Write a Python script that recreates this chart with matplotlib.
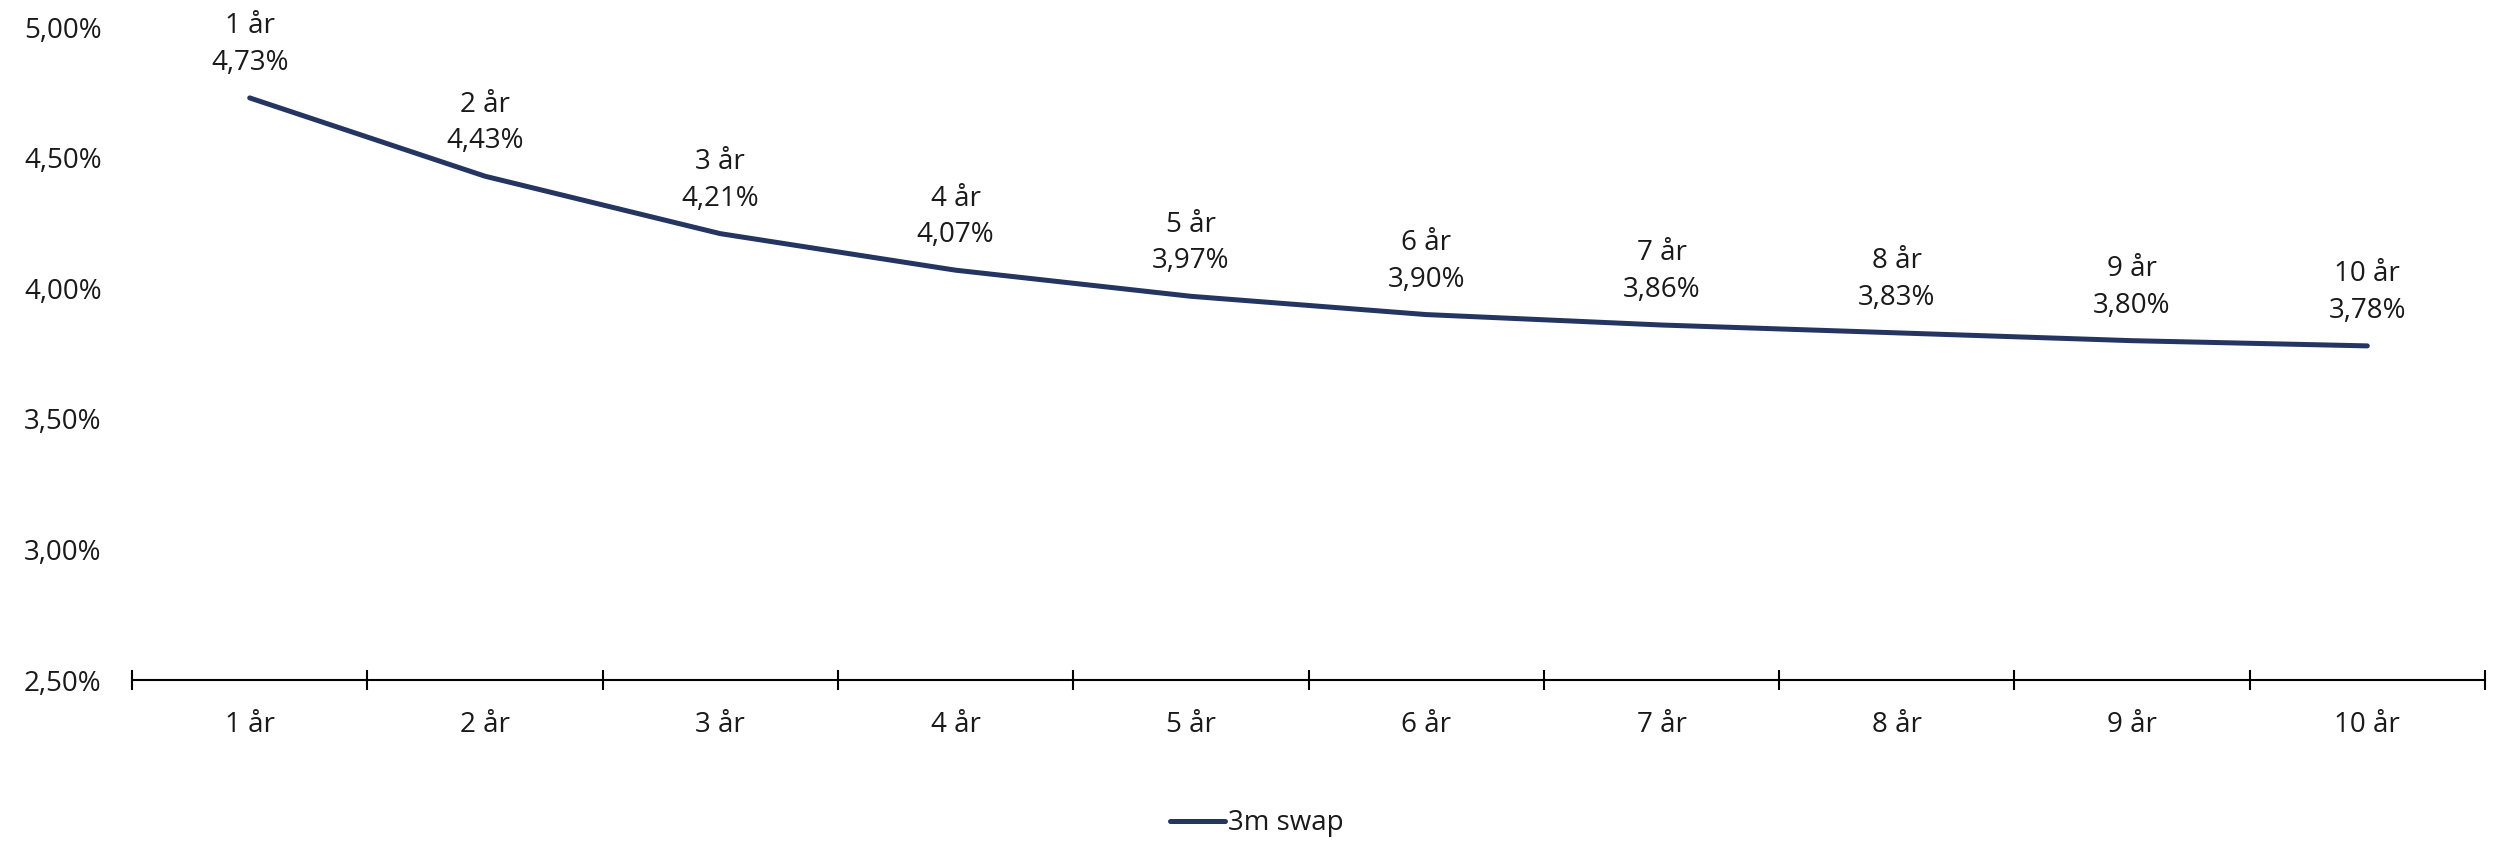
import matplotlib
matplotlib.use("Agg")
import matplotlib.pyplot as plt
from matplotlib.ticker import FixedLocator, FuncFormatter

categories = ["1 år", "2 år", "3 år", "4 år", "5 år", "6 år", "7 år", "8 år", "9 år", "10 år"]
swap_3m = [4.73, 4.43, 4.21, 4.07, 3.97, 3.90, 3.86, 3.83, 3.80, 3.78]
y_ticks = [2.50, 3.00, 3.50, 4.00, 4.50, 5.00]
series_name = "3m swap"

plt.rcParams['font.family'] = ['Open Sans', 'DejaVu Sans']
line_color = "#253561"
text_color = "#1a1a1a"
fs = 20

fig = plt.figure(figsize=(25.06, 8.41), dpi=100)
ax = fig.add_axes([0.0527, 0.1914, 0.9389, 0.776])

x = list(range(len(categories)))
ax.plot(x, swap_3m, color=line_color, lw=3.6, solid_capstyle='round', label=series_name)

def fmt(v):
    return f"{v:.2f}".replace(".", ",") + "%"

for xi, cat, v in zip(x, categories, swap_3m):
    ax.annotate(f"{cat}\n{fmt(v)}", (xi, v), xytext=(0, 15), textcoords='offset points',
                ha='center', va='bottom', fontsize=fs, color=text_color, linespacing=1.42)

ax.set_xlim(-0.5, len(categories) - 0.5)
ax.set_ylim(2.5, 5.0)
ax.set_yticks(y_ticks)
ax.yaxis.set_major_formatter(FuncFormatter(lambda v, p: fmt(v)))
ax.tick_params(axis='y', length=0, pad=22, labelsize=fs, labelcolor=text_color)

ax.xaxis.set_major_locator(FixedLocator([i - 0.5 for i in range(len(categories) + 1)]))
ax.xaxis.set_minor_locator(FixedLocator(x))
ax.xaxis.set_major_formatter(FuncFormatter(lambda v, p: ""))
ax.set_xticks(x, categories, minor=True)
ax.tick_params(axis='x', which='major', direction='inout', length=14, width=1.5, color='black')
ax.tick_params(axis='x', which='minor', length=0, pad=22, labelsize=fs, labelcolor=text_color)

for s in ['top', 'right', 'left']:
    ax.spines[s].set_visible(False)
ax.spines['bottom'].set_linewidth(1.5)
ax.spines['bottom'].set_color('black')

leg = fig.legend(loc='center', bbox_to_anchor=(0.5015, 0.021), frameon=False, fontsize=fs,
                 handlelength=2.0, handletextpad=0.1)
for t in leg.get_texts():
    t.set_color(text_color)

fig.savefig("out.png", dpi=100)
